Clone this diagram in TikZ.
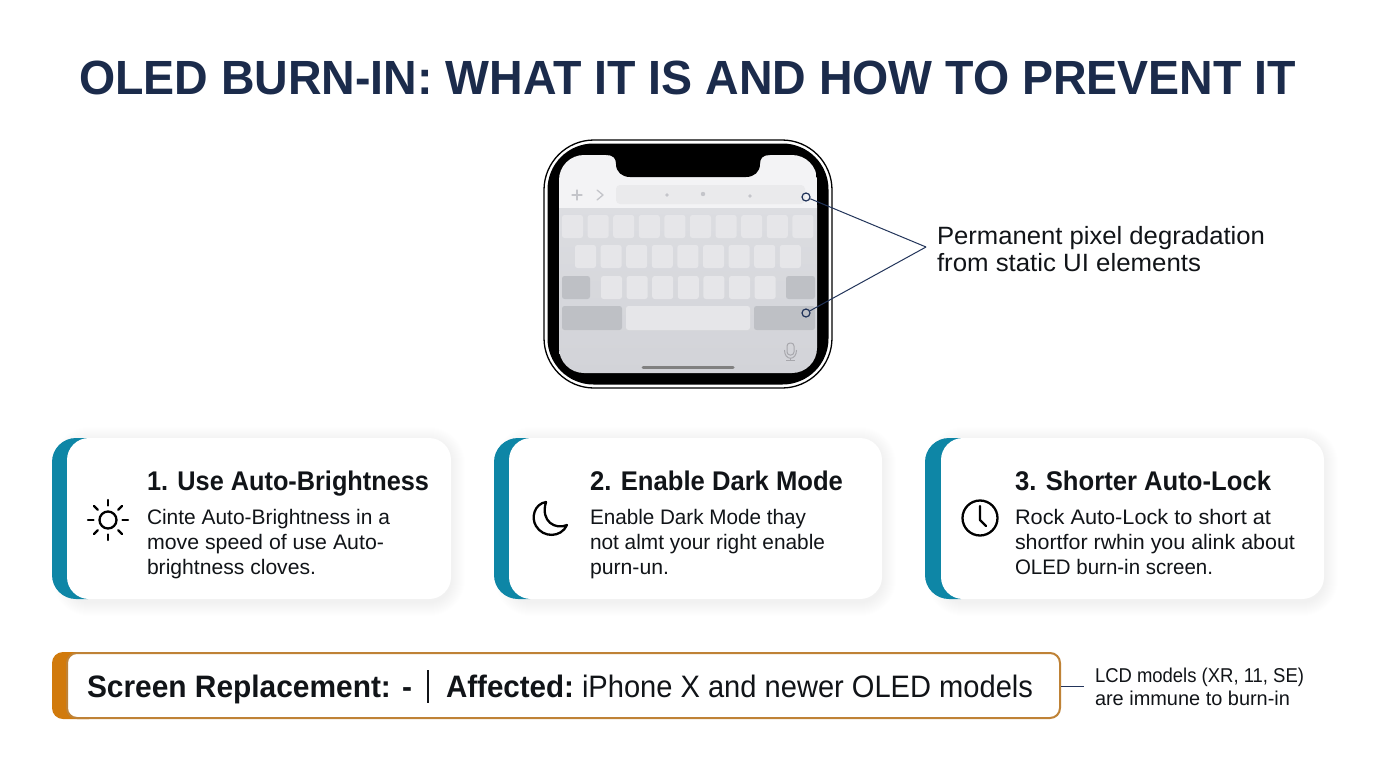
\documentclass[tikz,border=0pt]{standalone}
\usepackage{fontspec}
\usepackage{graphicx}
\setmainfont{Liberation Sans}
\usetikzlibrary{calc}
\definecolor{navy}{HTML}{1B2B4B}
\definecolor{linenavy}{HTML}{22345A}
\definecolor{teal1}{HTML}{0E86A6}
\definecolor{orange1}{HTML}{D17A0C}
\definecolor{orange2}{HTML}{BF8236}
\definecolor{ink}{HTML}{111418}
\definecolor{keyc}{HTML}{E6E6E9}
\definecolor{keyd}{HTML}{BEC0C5}
\definecolor{iconc}{HTML}{C4C5CA}
\definecolor{toolc}{HTML}{F3F3F5}
\definecolor{barc}{HTML}{EAEAEC}
\definecolor{kbtop}{HTML}{DCDDE1}
\definecolor{kbbot}{HTML}{D2D3D8}
\newcommand\fitw[2]{\resizebox{#1pt}{\height}{#2}}
\newcommand\softshadow[2]{%
  \foreach \s in {1,...,14}
    \fill[black,fill opacity=0.005,rounded corners={22pt+\s*1pt}]
      ({#1-\s},{438+3-\s}) rectangle ({#2+\s},{599+3+\s});}
\tikzset{
  txt/.style={inner sep=0pt,outer sep=0pt,anchor=base west,text=ink},
  titletxt/.style={txt,text=navy,font=\fontsize{48}{50}\selectfont\bfseries},
  cardhead/.style={txt,font=\fontsize{27}{30}\selectfont\bfseries},
  cardbody/.style={txt,align=left,font=\fontsize{21}{25}\selectfont},
  calltxt/.style={txt,align=left,font=\fontsize{25}{27.5}\selectfont},
  bartxt/.style={txt,font=\fontsize{31}{34}\selectfont},
  notetxt/.style={txt,align=left,font=\fontsize{20}{23}\selectfont},
  tealback/.style={fill=teal1,rounded corners=24pt,inner sep=0,outer sep=0,anchor=north west,minimum height=161pt,minimum width=60pt},
  cardface/.style={fill=white,rounded corners=22pt,inner sep=0,outer sep=0,anchor=north west,minimum height=161pt},
  keyb/.style={fill=keyc,rounded corners=2.5pt},
  keyk/.style={fill=keyd,rounded corners=2.5pt},
  marker/.style={circle,draw=linenavy,line width=1.2pt,minimum size=8pt,inner sep=0},
  leader/.style={draw=linenavy,line width=1pt},
  icon/.style={draw=black,line width=2.3pt,line cap=round,line join=round},
  glyph/.style={draw=iconc,line width=1.3pt,line cap=round,line join=round},
}
\begin{document}
\begin{tikzpicture}[x=1pt,y=-1pt]
\useasboundingbox[fill=white] (0,0) rectangle (1376,768);

% title
\node[titletxt] (title) at (79,94) {\fitw{1217}{OLED BURN-IN: WHAT IT IS AND HOW TO PREVENT IT}};

% phone body
\draw[black,line width=1.3pt,fill=white,rounded corners=50pt] (544,140) rectangle (832,388);
\fill[black,rounded corners=46pt] (547.5,143.5) rectangle (828.5,384.5);
% screen
\begin{scope}
  \clip[rounded corners=25pt] (559,155) rectangle (817,373);
  \shade[top color=kbtop,bottom color=kbbot] (559,205) rectangle (817,373);
  \fill[toolc] (559,155) rectangle (817,208);
\end{scope}
% notch
\fill[black] (606,155) .. controls (613,155) and (616,158) .. (616,164)
  .. controls (616,172) and (622,177) .. (630,177) -- (746,177)
  .. controls (754,177) and (760,172) .. (760,164)
  .. controls (760,158) and (763,155) .. (770,155) -- cycle;
% toolbar
\fill[barc,rounded corners=4pt] (616,185) rectangle (805,204);
\draw[glyph] (572,195) -- (582,195) (577,190) -- (577,200);
\draw[glyph] (597,190) -- (603,195) -- (597,200);
\fill[iconc] (667,195) circle (1.8pt) (703,194) circle (2.2pt) (750,196) circle (1.8pt);
% keys
\foreach \i in {0,...,9} \fill[keyb] ({562+25.6*\i},215) rectangle ++(21,23);
\foreach \i in {0,...,8} \fill[keyb] ({575+25.6*\i},245) rectangle ++(21,23);
\foreach \i in {0,...,6} \fill[keyb] ({601+25.6*\i},276) rectangle ++(21,23);
\fill[keyk] (562,276) rectangle (590,299);
\fill[keyk] (786,276) rectangle (815,299);
\fill[keyk] (562,306) rectangle (622,330);
\fill[keyb] (626,306) rectangle (750,330);
\fill[keyk] (754,306) rectangle (815,330);
% microphone
\draw[draw=iconc!85!black,line width=1pt,rounded corners=3pt] (787,343) rectangle (794,355);
\draw[draw=iconc!85!black,line width=1pt] (784.5,350) .. controls (784.5,361) and (796.5,361) .. (796.5,350);
\draw[draw=iconc!85!black,line width=1pt] (790.5,358) -- (790.5,360.5) (786,360.5) -- (795,360.5);
% home bar
\draw[draw=black!50,line width=3pt,line cap=round] (643,367) -- (733,367);

% callouts
\node[marker] (m1) at (806,197) {};
\node[marker] (m2) at (806,313) {};
\coordinate (hub) at (926,247);
\draw[leader] (m1) -- (hub);
\draw[leader] (m2) -- (hub);
\node[calltxt] (calltext) at (937,271.5) {\fitw{328}{Permanent pixel degradation}\\\fitw{264}{from static UI elements}};

% card 1
\softshadow{67}{451}
\node[tealback] (c1b) at (52,438) {};
\node[cardface,minimum width=384pt] (c1) at (67,438) {};
\node[cardhead] (c1h) at (147,490) {\fitw{282}{1. Use Auto-Brightness}};
\node[cardbody] (c1t) at (147,574) {\fitw{243}{Cinte Auto-Brightness in a}\\\fitw{237}{move speed of use Auto-}\\\fitw{169}{brightness cloves.}};
\draw[icon] (108,520) circle (8.5pt);
\foreach \a in {0,45,...,315} \draw[icon] ($(108,520)+(\a:14.5)$) -- ($(108,520)+(\a:20)$);

% card 2
\softshadow{509}{882}
\node[tealback] (c2b) at (494,438) {};
\node[cardface,minimum width=373pt] (c2) at (509,438) {};
\node[cardhead] (c2h) at (590,490) {\fitw{253}{2. Enable Dark Mode}};
\node[cardbody] (c2t) at (590,574) {\fitw{216}{Enable Dark Mode thay}\\\fitw{235}{not almt your right enable}\\\fitw{79}{purn-un.}};
\draw[icon] (546,502) .. controls (534,504) and (531,518) .. (536,526)
  .. controls (543,538) and (561,538) .. (567,525)
  .. controls (556,530) and (540,522) .. (546,502) -- cycle;

% card 3
\softshadow{941}{1324}
\node[tealback] (c3b) at (925,438) {};
\node[cardface,minimum width=383pt] (c3) at (941,438) {};
\node[cardhead] (c3h) at (1015,490) {\fitw{256}{3. Shorter Auto-Lock}};
\node[cardbody] (c3t) at (1015,574) {\fitw{256}{Rock Auto-Lock to short at}\\\fitw{280}{shortfor rwhin you alink about}\\\fitw{198}{OLED burn-in screen.}};
\draw[icon] (980,518) circle (17.5pt);
\draw[icon] (980,506) -- (980,520) -- (986,526);

% bottom bar
\fill[orange1,rounded corners=11pt] (52,652) rectangle (100,719);
\draw[orange2,line width=2pt,fill=white,rounded corners=10pt] (67,653) rectangle (1060,718);
\node[bartxt] (b1) at (87,697) {\fitw{325}{\bfseries Screen Replacement: -}};
\node[bartxt] (b2) at (446,697) {\fitw{128}{\bfseries Affected:}};
\node[bartxt] (b3) at (582,697) {\fitw{451}{iPhone X and newer OLED models}};
\coordinate (sepa) at (428,670);
\coordinate (sepb) at (428,703);
\draw[ink,line width=1.4pt] (sepa) -- (sepb);
\coordinate (barr) at (1061,686);
\coordinate (noter) at (1084,686);
\draw[leader] (barr) -- (noter);
\node[notetxt] (note) at (1095,705) {\fitw{209}{LCD models (XR, 11, SE)}\\\fitw{195}{are immune to burn-in}};
\end{tikzpicture}
\end{document}
